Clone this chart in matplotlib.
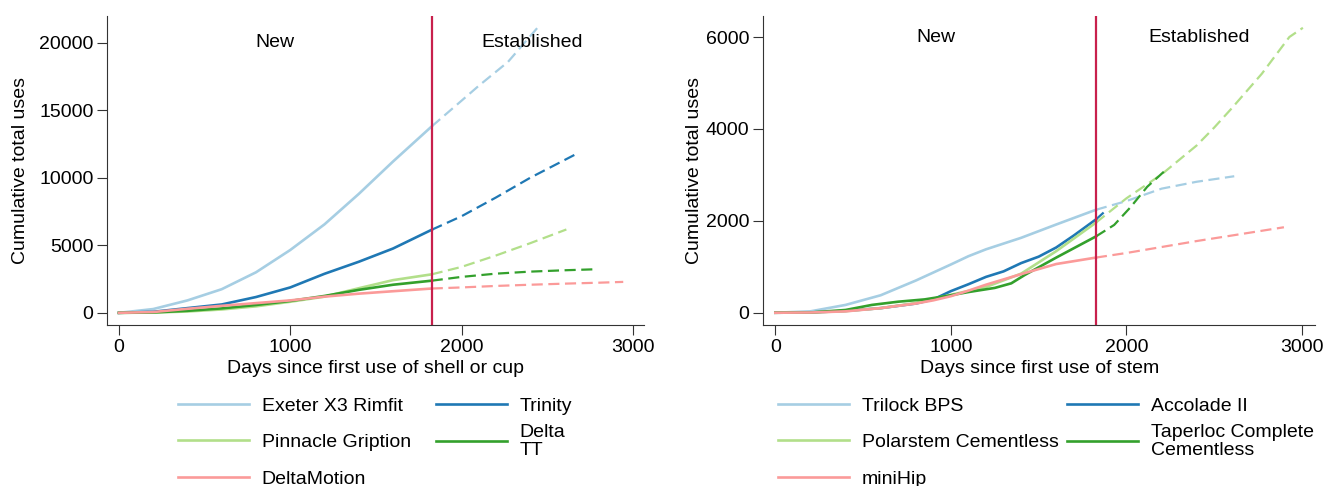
import numpy as np
import matplotlib
matplotlib.use("Agg")
import matplotlib.pyplot as plt

plt.rcParams['font.family'] = ['Liberation Sans', 'DejaVu Sans']
plt.rcParams['font.size'] = 14

cutoff = 1826  # five years after first use

# left panel: shells / cups
cup_names = ["Exeter X3 Rimfit", "Trinity", "Pinnacle Gription", "Delta\nTT", "DeltaMotion"]
exeter_x = [0, 200, 400, 600, 800, 1000, 1200, 1400, 1600, 1826, 2000, 2100, 2271, 2444]
exeter_y = [0, 280, 920, 1750, 3000, 4650, 6550, 8800, 11200, 13800, 15700, 16800, 18570, 21110]
trinity_x = [0, 200, 400, 600, 800, 1000, 1200, 1400, 1600, 1826, 2000, 2200, 2400, 2667]
trinity_y = [0, 80, 350, 620, 1170, 1880, 2890, 3780, 4760, 6150, 7150, 8530, 9990, 11740]
gription_x = [0, 200, 400, 600, 800, 1000, 1200, 1400, 1600, 1826, 2000, 2200, 2400, 2612]
gription_y = [0, 20, 100, 250, 480, 820, 1200, 1820, 2420, 2850, 3400, 4240, 5150, 6170]
deltatt_x = [0, 200, 400, 600, 800, 1000, 1200, 1400, 1600, 1826, 2000, 2200, 2400, 2600, 2795]
deltatt_y = [0, 30, 150, 330, 580, 880, 1250, 1700, 2080, 2380, 2660, 2900, 3050, 3150, 3230]
motion_x = [0, 200, 400, 600, 800, 1000, 1200, 1400, 1600, 1826, 2000, 2200, 2400, 2600, 2800, 2944]
motion_y = [0, 60, 300, 520, 720, 920, 1200, 1420, 1600, 1800, 1880, 1990, 2080, 2160, 2230, 2290]

# right panel: stems
stem_names = ["Trilock BPS", "Accolade II", "Polarstem Cementless",
              "Taperloc Complete\nCementless", "miniHip"]
trilock_x = [0, 200, 400, 600, 800, 1000, 1100, 1200, 1400, 1600, 1826, 2000, 2200, 2400, 2614]
trilock_y = [0, 30, 170, 380, 700, 1050, 1230, 1380, 1630, 1920, 2240, 2430, 2700, 2850, 2970]
accolade_x = [0, 200, 400, 600, 800, 900, 1000, 1100, 1200, 1300, 1400, 1500, 1600, 1700, 1826, 1870]
accolade_y = [0, 5, 40, 100, 200, 290, 470, 620, 780, 900, 1080, 1220, 1420, 1680, 2030, 2180]
polar_x = [0, 200, 400, 600, 800, 1000, 1200, 1400, 1600, 1826, 2000, 2200, 2400, 2500, 2600, 2771, 2928, 3005]
polar_y = [0, 5, 35, 100, 210, 390, 560, 850, 1340, 1960, 2490, 3010, 3640, 4030, 4450, 5200, 6000, 6200]
taperloc_x = [0, 200, 400, 550, 700, 850, 1000, 1100, 1250, 1344, 1420, 1600, 1826, 1930, 2024, 2118, 2228]
taperloc_y = [0, 5, 60, 170, 240, 290, 380, 450, 540, 640, 820, 1200, 1660, 1910, 2300, 2740, 3120]
minihip_x = [0, 200, 400, 600, 800, 900, 1000, 1100, 1200, 1400, 1600, 1826, 2000, 2200, 2400, 2600, 2897]
minihip_y = [0, 5, 30, 100, 200, 270, 360, 480, 610, 840, 1060, 1200, 1300, 1430, 1560, 1680, 1860]

colors = ['#a6cee3', '#1f78b4', '#b2df8a', '#33a02c', '#fb9a99']
W, H = 1325, 486


def draw_panel(ax, series, names, yticks, ylim, xlim, xlabel, label_y, ypad):
    lines = []
    for (x, y), c, name in zip(series, colors, names):
        x = np.array(x)
        y = np.array(y)
        old = x <= cutoff
        new = x >= cutoff
        ln, = ax.plot(x[old], y[old], color=c, lw=1.9, label=name)
        ax.plot(x[new], y[new], color=c, lw=1.6, ls=(0, (5, 2.5)))
        lines.append(ln)
    ax.axvline(cutoff, color='#c8204c', lw=1.6)
    ax.text(cutoff / 2, label_y, "New", ha='center', va='center')
    ax.text((cutoff + 3000) / 2, label_y, "Established", ha='center', va='center')
    ax.set_xlim(*xlim)
    ax.set_ylim(*ylim)
    ax.set_xticks([0, 1000, 2000, 3000])
    ax.set_yticks(yticks)
    ax.set_xlabel(xlabel, labelpad=3)
    ax.set_ylabel("Cumulative total uses", labelpad=ypad)
    for s in ['top', 'right']:
        ax.spines[s].set_visible(False)
    for s in ['left', 'bottom']:
        ax.spines[s].set_color('#333333')
    ax.tick_params(direction='out', length=7, color='#333333', labelsize=14, pad=3)
    return lines


def column_legend(fig, handles, labels, x, y, spacing):
    leg = fig.legend(handles, labels, loc='upper left',
                     bbox_to_anchor=(x / W, 1 - y / H), frameon=False,
                     borderpad=0, borderaxespad=0, handlelength=3.65,
                     handletextpad=0.65, labelspacing=spacing, fontsize=14)
    for t in leg.get_texts():
        t.set_linespacing(1.05)
    return leg


fig = plt.figure(figsize=(13.25, 4.86), dpi=100)
ax1 = fig.add_axes([107.3 / W, 161 / H, 537 / W, 309 / H])
ax2 = fig.add_axes([763.4 / W, 161 / H, 551.6 / W, 309 / H])

cups = [(exeter_x, exeter_y), (trinity_x, trinity_y), (gription_x, gription_y),
        (deltatt_x, deltatt_y), (motion_x, motion_y)]
stems = [(trilock_x, trilock_y), (accolade_x, accolade_y), (polar_x, polar_y),
         (taperloc_x, taperloc_y), (minihip_x, minihip_y)]

l1 = draw_panel(ax1, cups, cup_names, [0, 5000, 10000, 15000, 20000],
                (-900, 21970), (-68, 3067), "Days since first use of shell or cup", 20000, 7)
l2 = draw_panel(ax2, stems, stem_names, [0, 2000, 4000, 6000],
                (-267, 6457), (-68, 3074), "Days since first use of stem", 6000, 2)

column_legend(fig, [l1[0], l1[2], l1[4]], [cup_names[0], cup_names[2], cup_names[4]], 178, 397, 0.98)
column_legend(fig, [l1[1], l1[3]], [cup_names[1], cup_names[3]], 436, 397, 0.49)
column_legend(fig, [l2[0], l2[2], l2[4]], [stem_names[0], stem_names[2], stem_names[4]], 778, 397, 0.98)
column_legend(fig, [l2[1], l2[3]], [stem_names[1], stem_names[3]], 1067, 397, 0.49)

fig.savefig("out.png", dpi=100)
